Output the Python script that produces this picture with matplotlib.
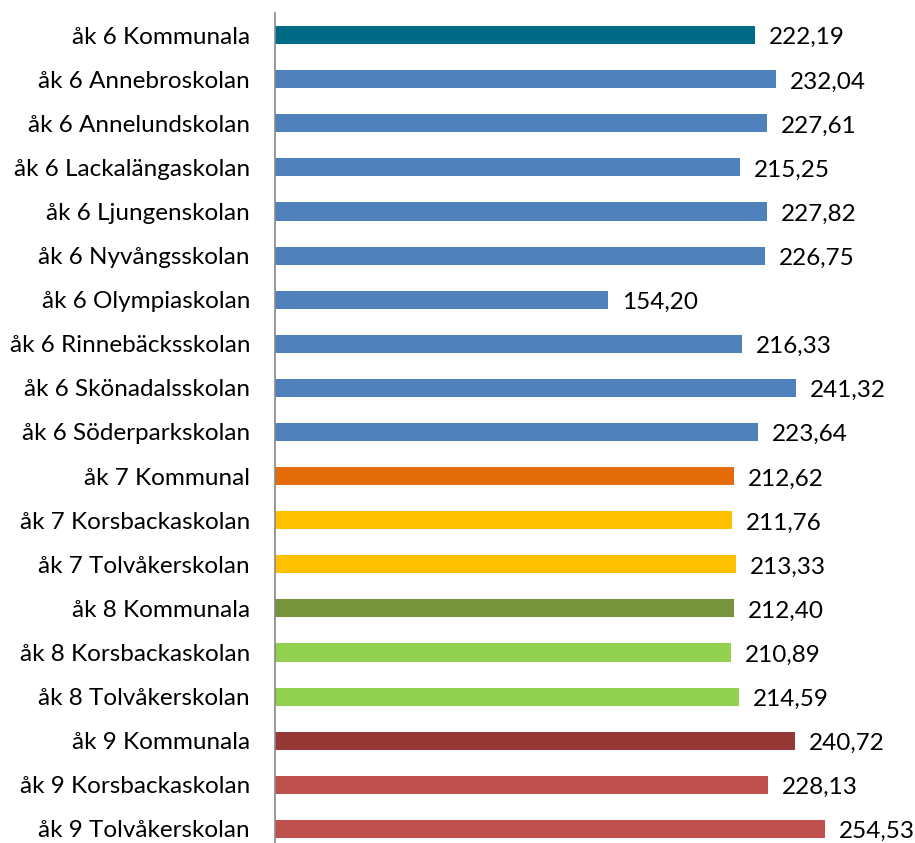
import matplotlib
matplotlib.use('Agg')
from matplotlib import pyplot as plt

labels = ['åk 6 Kommunala', 'åk 6 Annebroskolan', 'åk 6 Annelundskolan', 'åk 6 Lackalängaskolan',
          'åk 6 Ljungenskolan', 'åk 6 Nyvångsskolan', 'åk 6 Olympiaskolan', 'åk 6 Rinnebäcksskolan',
          'åk 6 Skönadalsskolan', 'åk 6 Söderparkskolan', 'åk 7 Kommunal', 'åk 7 Korsbackaskolan',
          'åk 7 Tolvåkerskolan', 'åk 8 Kommunala', 'åk 8 Korsbackaskolan', 'åk 8 Tolvåkerskolan',
          'åk 9 Kommunala', 'åk 9 Korsbackaskolan', 'åk 9 Tolvåkerskolan']
values = [222.19, 232.04, 227.61, 215.25, 227.82, 226.75, 154.20, 216.33, 241.32, 223.64,
          212.62, 211.76, 213.33, 212.40, 210.89, 214.59, 240.72, 228.13, 254.53]
colors = ['#006B84'] + ['#4F81BD'] * 9 + ['#E36C09'] + ['#FFC000'] * 2 + ['#77933C'] + ['#92D050'] * 2 \
         + ['#953735'] + ['#C0504D'] * 2

plt.rcParams['font.family'] = ['Lato', 'DejaVu Sans']

fig = plt.figure(figsize=(9.15, 8.43), dpi=100)
ax = fig.add_axes([275 / 915, -8 / 843, 640 / 915, 838 / 843])

pos = list(range(len(values)))
ax.barh(pos, values, height=0.41, color=colors)
ax.set_ylim(len(values) - 0.5, -0.5)
ax.set_xlim(0, 640 / 2.16)

for p, v in zip(pos, values):
    ax.annotate(f'{v:.2f}'.replace('.', ','), (v, p), xytext=(10, -2), textcoords='offset points',
                va='center', ha='left', fontsize=17.5, annotation_clip=False)

ax.set_yticks(pos)
ax.set_yticklabels(labels, fontsize=17.5)
ax.tick_params(axis='y', length=0, pad=18)
ax.set_xticks([])
for s in ['top', 'right', 'bottom']:
    ax.spines[s].set_visible(False)
ax.spines['left'].set_color('#888888')
ax.spines['left'].set_linewidth(1.2)

fig.savefig('out.png', dpi=100)
